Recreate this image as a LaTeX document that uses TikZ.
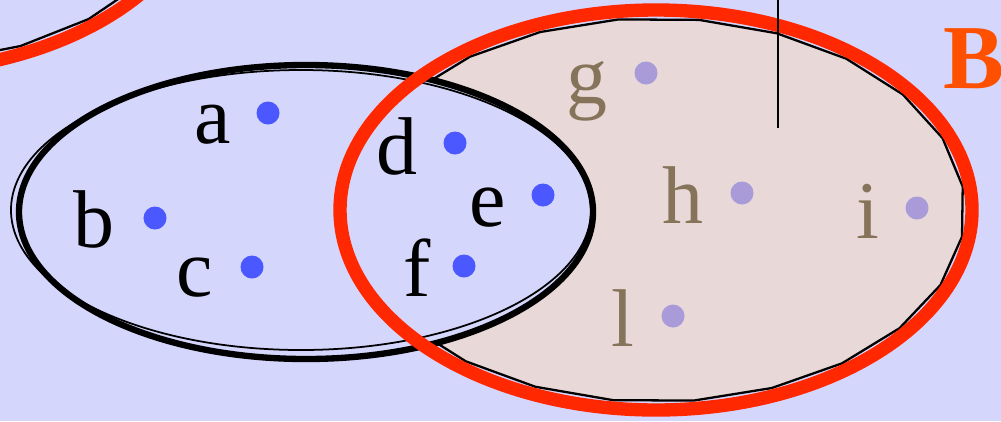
\documentclass[tikz,border=0pt]{standalone}
\usepackage{fontspec}
\setmainfont{Liberation Serif}
\usepackage{xcolor}
\definecolor{vnlavender}{RGB}{213,214,252}
\definecolor{vnpink}{RGB}{233,216,216}
\definecolor{vnred}{RGB}{255,40,0}
\definecolor{vnorange}{RGB}{255,80,0}
\definecolor{vnblue}{RGB}{75,87,255}
\definecolor{vnlilac}{RGB}{168,155,216}
\definecolor{vnbrown}{RGB}{133,115,90}
\usetikzlibrary{positioning}
\tikzset{
  elem/.style={circle, fill=vnblue, inner sep=0pt, minimum size=0.23cm},
  elemB/.style={elem, fill=vnlilac},
  lbl/.style={anchor=base, inner sep=0pt, font=\fontsize{23.3}{28}\selectfont},
  lblB/.style={lbl, text=vnbrown},
  ring/.style={draw=vnred, line width=3.8pt},
  rim/.style={draw=black, line width=0.65pt}
}

\begin{document}
\begin{tikzpicture}[x=0.01cm, y=-0.01cm]
  \useasboundingbox (0,0) rectangle (1001,421);
  \fill[vnlavender] (0,0) rectangle (1001,421);

  %% Set A (top left, cut off)
  \draw[rim, fill=vnlavender] plot[domain=5:365, samples=25] ({-110+309*cos(\x)}, {-128+192*sin(\x)}) -- cycle;
  \draw[ring] (-110,-128) ellipse [x radius=316, y radius=200];

  %% Set B
  \draw[rim, fill=vnpink] plot[domain=8:368, samples=25] ({656+309*cos(\x)}, {210+192*sin(\x)}) -- cycle;

  %% Left set
  \draw[line width=1.8pt, fill=vnlavender] (306,212) ellipse [x radius=287, y radius=147];
  \draw[line width=0.5pt] (301,210) ellipse [x radius=290, y radius=140];

  \draw[ring] (656,210) ellipse [x radius=316, y radius=200];

  %% Elements
  \node[elem] (pa) at (268,113) {};
  \node[elem] (pb) at (155,218) {};
  \node[elem] (pc) at (252,267) {};
  \node[elem] (pd) at (455,143) {};
  \node[elem] (pe) at (543,195) {};
  \node[elem] (pf) at (464,266) {};
  \node[elemB] (pg) at (646,73) {};
  \node[elemB] (ph) at (742,193) {};
  \node[elemB] (pi) at (917,208) {};
  \node[elemB] (pl) at (673,316) {};

  \node[lbl] (la) at (213,143) {a};
  \node[lbl] (lb) at (94,247) {b};
  \node[lbl] (lc) at (195,296) {c};
  \node[lbl] (ld) at (397,174) {d};
  \node[lbl] (le) at (488,226) {e};
  \node[lbl] (lf) at (417,296) {f};
  \node[lblB] (lg) at (587,103) {g};
  \node[lblB] (lh) at (683,223) {h};
  \node[lblB] (li) at (868,238) {i};
  \node[lblB] (ll) at (623,346) {l};

  %% Name and pointer
  \node[anchor=base west, inner sep=0pt, text=vnorange, font=\fontsize{26}{30}\selectfont\bfseries] (nameB) at (943,88) {B};
  \coordinate (tipTop) at (778,0);
  \coordinate (tipEnd) at (778,128);
  \draw[line width=0.5pt] (tipTop) -- (tipEnd);
\end{tikzpicture}
\end{document}
